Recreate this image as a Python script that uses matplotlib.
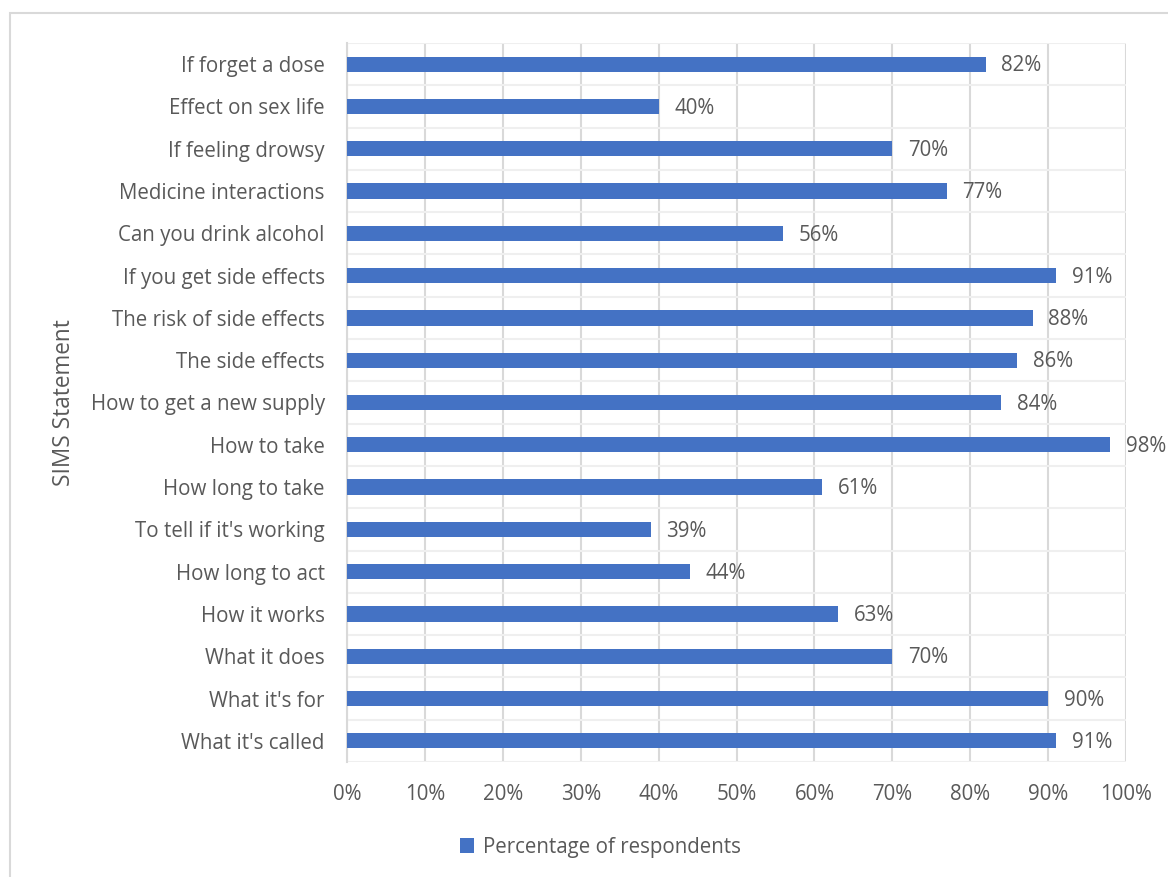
import matplotlib.pyplot as plt
from matplotlib.patches import Rectangle
from matplotlib.ticker import FixedLocator

plt.rcParams['font.family'] = ['Open Sans', 'DejaVu Sans']

statements = ["If forget a dose", "Effect on sex life", "If feeling drowsy",
              "Medicine interactions", "Can you drink alcohol",
              "If you get side effects", "The risk of side effects",
              "The side effects", "How to get a new supply", "How to take",
              "How long to take", "To tell if it's working", "How long to act",
              "How it works", "What it does", "What it's for", "What it's called"]
percent = [82, 40, 70, 77, 56, 91, 88, 86, 84, 98, 61, 39, 44, 63, 70, 90, 91]

blue = '#4472C4'
grey_txt = '#595959'
fs = 14.8

fig = plt.figure(figsize=(11.68, 8.77), dpi=100)
ax = fig.add_axes([0.2971, 0.1311, 0.6670, 0.8199])

n = len(statements)
ypos = list(range(n))[::-1]
ax.barh(ypos, percent, height=0.36, color=blue, label='Percentage of respondents', zorder=3)
for y, v in zip(ypos, percent):
    ax.text(v + 2.0, y - 0.04, f"{v}%", va='center', ha='left', fontsize=fs, color=grey_txt)

ax.set_xlim(0, 100)
ax.set_ylim(-0.5, n - 0.5)
ax.set_xticks(range(0, 101, 10))
ax.set_xticklabels([f"{t}%" for t in range(0, 101, 10)], fontsize=fs, color=grey_txt)
ax.set_yticks(ypos)
ax.set_yticklabels(statements, fontsize=fs, color=grey_txt)
ax.yaxis.set_minor_locator(FixedLocator([i - 0.5 for i in range(n + 1)]))
ax.tick_params(axis='both', which='both', length=0)
ax.tick_params(axis='y', pad=16)
ax.tick_params(axis='x', pad=16)

ax.grid(axis='x', which='major', color='#D9D9D9', linewidth=1.5, zorder=0)
ax.grid(axis='y', which='minor', color='#EFEFEF', linewidth=1.5, zorder=0)
for s in ['top', 'right', 'bottom']:
    ax.spines[s].set_visible(False)
ax.spines['left'].set_color('#D9D9D9')
ax.spines['left'].set_linewidth(1.5)

ax.set_ylabel('SIMS Statement', fontsize=16.3, color=grey_txt)
ax.yaxis.set_label_coords(-0.348, 0.5)

leg = fig.legend(loc='center', bbox_to_anchor=(0.514, 0.034), frameon=False,
                 fontsize=fs, handlelength=0.7, handleheight=0.7, handletextpad=0.4)
for t in leg.get_texts():
    t.set_color(grey_txt)

fig.patches.append(Rectangle((10 / 1168, -0.1), 1.2, 1 - 13 / 877 + 0.1,
                             transform=fig.transFigure, fill=False,
                             edgecolor='#D9D9D9', linewidth=1.5))

fig.savefig('out.png', dpi=100)
